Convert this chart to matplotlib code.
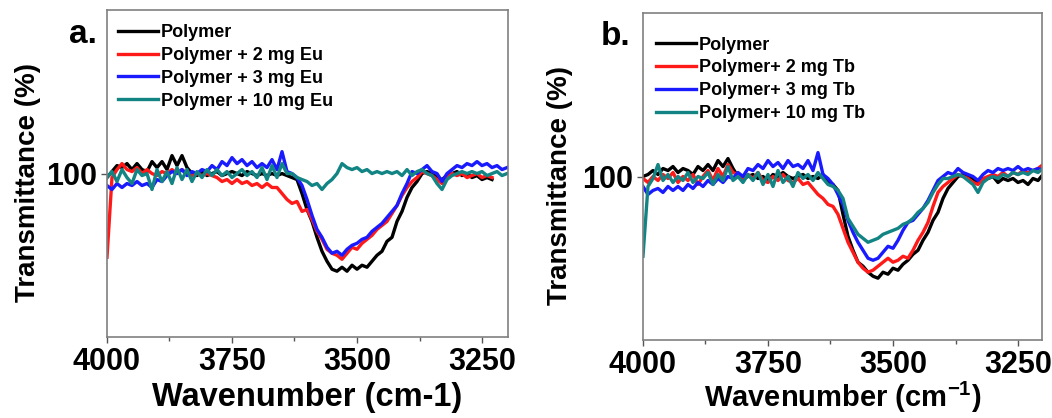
import matplotlib.pyplot as plt
from matplotlib.ticker import MultipleLocator

plt.rcParams['font.family'] = ['Liberation Sans', 'DejaVu Sans']
plt.rcParams['font.weight'] = 'bold'
plt.rcParams['mathtext.fontset'] = 'custom'
plt.rcParams['mathtext.rm'] = 'Liberation Sans:bold'
plt.rcParams['mathtext.bf'] = 'Liberation Sans:bold'

# wavenumber grid, 4000 -> 3200 cm-1 every 10
wavenumber = list(range(4000, 3190, -10))

# panel a: Eu
eu_polymer = [99, 100.5, 102, 101.5, 102.5, 101, 102.5, 101, 100.5, 103,
              101.5, 103, 101, 104.5, 102, 104.5, 101.5, 100, 99.5, 100.5,
              99.5, 100, 100.5, 99.5, 100, 100.5, 100, 99.5, 100.5, 100,
              99.5, 100, 99.5, 100, 99.5, 100, 99.5, 99, 98.5, 95,
              91, 88, 84, 80.5, 78, 76, 75.5, 76.5, 75.5, 77,
              76, 77, 76.5, 78, 79.5, 80.5, 83, 84, 88, 90.5,
              94, 96.5, 98, 100, 100.5, 100, 99, 98.5, 99.5, 100,
              100.5, 99.5, 100, 99, 99.5, 98.5, 99, 98.5]
eu_2mg = [79, 99, 101, 102.5, 101, 100.5, 101.5, 100, 101, 100,
          99.5, 100.5, 100, 101, 100, 101, 100, 99.5, 100, 99.5,
          100, 99.5, 99, 98, 98.5, 97.5, 98.5, 97.5, 98, 97,
          97.5, 96.5, 97.5, 96.5, 96.5, 95, 93.5, 92.5, 93, 90.5,
          91, 88.5, 85.5, 83.5, 81, 80, 79.5, 78.5, 80, 81.5,
          81, 82.5, 83.5, 84.5, 86, 87, 88, 90, 92, 94.5,
          96.5, 98, 99, 100.5, 100, 99.5, 98.5, 97.5, 99, 100,
          99.5, 100, 99, 99.5, 100, 99, 99.5, 99]
eu_3mg = [97, 96, 97.5, 96.5, 97.5, 97, 98, 97, 97.5, 96.5,
          98.5, 98, 99.5, 100.5, 100, 101, 99.5, 100.5, 100, 101,
          100.5, 102, 101, 103, 102, 104, 102.5, 103.5, 102, 103,
          101.5, 102.5, 101.5, 103.5, 101, 105.5, 100.5, 100, 99, 97,
          93.5, 89.5, 86, 84, 81.5, 80, 80.5, 79.5, 81, 82,
          82.5, 83.5, 84, 85.5, 86.5, 87.5, 89, 90.5, 92, 95,
          97.5, 100.5, 100, 101, 102, 100.5, 100, 98, 100, 101,
          102, 101.5, 102.5, 102, 103, 102, 102.5, 101.5, 102, 101,
          101.5]
eu_10mg = [99, 100.5, 98, 101, 99, 97.5, 101, 99.5, 100, 96,
           101, 98, 100.5, 97.5, 101.5, 98.5, 101, 98, 100.5, 99,
           101, 99.5, 101, 99.5, 100.5, 99, 100, 101, 99.5, 100.5,
           99, 101.5, 98.5, 102, 99, 102.5, 100, 100, 99, 98.5,
           98, 97, 97.5, 96, 97.5, 98.5, 100, 102.5, 101.5, 101,
           101.5, 100.5, 101, 100, 100.5, 100, 100.5, 100, 100.5, 99.5,
           101, 99.5, 100.5, 101, 100, 99.5, 97.5, 96, 98.5, 99.5,
           100, 100.5, 100, 100.5, 100, 100.5, 99.5, 100, 100.5, 99.5,
           100]

# panel b: Tb
tb_polymer = [100, 100.5, 101.5, 100.5, 102, 101.5, 102.5, 101, 102, 101.5,
              100.5, 102.5, 101.5, 103, 101.5, 104, 102.5, 104.5, 102, 100,
              99.5, 100, 100.5, 99.5, 100, 99, 100.5, 100, 101, 100,
              99.5, 100, 100.5, 99.5, 100, 99.5, 100.5, 98.5, 98, 96.5,
              90.5, 85, 81.5, 78.5, 77.5, 76, 75, 74.5, 76, 75.5,
              77, 76.5, 78, 79, 80.5, 81.5, 84, 86, 89, 91,
              94.5, 97, 98.5, 100, 100.5, 100, 99.5, 98.5, 99, 99.5,
              100, 98.5, 99.5, 99, 99.5, 98.5, 99, 98, 99.5, 99,
              100.5]
tb_2mg = [99.5, 98.5, 100, 99, 100.5, 99.5, 101, 98.5, 100, 99,
          100.5, 98, 100, 101.5, 99, 102, 100, 103, 101, 100.5,
          99, 100.5, 99.5, 101, 99, 98.5, 100, 99, 100.5, 99,
          98.5, 99.5, 98, 98.5, 97, 95.5, 94.5, 93, 92.5, 90.5,
          87, 83.5, 81, 78.5, 77, 76, 76.5, 77.5, 78.5, 79.5,
          78.5, 79, 80, 79.5, 81.5, 84, 86, 88.5, 92.5, 96,
          97.5, 98.5, 99.5, 100.5, 100, 99.5, 98.5, 98, 99.5, 100,
          100.5, 100, 101, 100, 101, 100.5, 101.5, 101, 101.5, 102,
          103]
tb_3mg = [97.5, 95.5, 96.5, 97, 96, 97.5, 96.5, 97.5, 96.5, 98,
          97, 98.5, 97.5, 99, 98, 99.5, 98.5, 100, 99.5, 101,
          100, 102, 101.5, 103, 102, 104, 102.5, 103.5, 102, 104,
          102.5, 103, 102, 104, 101.5, 106, 100.5, 99.5, 98, 95.5,
          93, 89, 86, 83.5, 81.5, 79.5, 79, 79.5, 81, 82.5,
          82, 84, 86.5, 88.5, 89, 90.5, 92, 94, 96.5, 99,
          100, 101, 100.5, 102, 101, 100.5, 100, 99, 100.5, 101.5,
          101, 102, 101.5, 102, 101.5, 102.5, 101.5, 102, 101.5, 102,
          101.5]
tb_10mg = [80, 97.5, 99.5, 103, 99, 100.5, 98.5, 100, 99, 101,
           98.5, 100, 99.5, 101, 98, 100.5, 99, 102.5, 99, 100,
           98.5, 100.5, 99, 101, 98, 100.5, 97.5, 101.5, 98.5, 100,
           97.5, 101, 99.5, 100.5, 99, 101, 99.5, 98, 97.5, 96.5,
           94.5, 89.5, 87.5, 85.5, 84.5, 83.5, 84, 84.5, 85.5, 86,
           86.5, 87, 88, 88.5, 89.5, 91, 92, 93.5, 96, 98,
           99.5, 99.5, 100, 100.5, 100, 99, 98, 96, 98.5, 99.5,
           100, 99.5, 100.5, 100, 101, 100.5, 101, 100.5, 101.5, 101,
           102]

eu_labels = ["Polymer", "Polymer + 2 mg Eu", "Polymer + 3 mg Eu", "Polymer + 10 mg Eu"]
tb_labels = ["Polymer", "Polymer+ 2 mg Tb", "Polymer+ 3 mg Tb", "Polymer+ 10 mg Tb"]
colors = ["black", "#ff1a1a", "#1a1aff", "#138484"]

fig = plt.figure(figsize=(10.52, 4.18), dpi=100)
ax_a = fig.add_axes([0.1017, 0.1938, 0.3812, 0.782])
ax_b = fig.add_axes([0.6112, 0.1866, 0.3793, 0.7823])


def draw_panel(ax, series, labels, letter, letter_xy, xlabel, xsize, xpad, xmax,
               leg_anchor, ylab_x):
    for ys, lab, c in zip(series, labels, colors):
        ax.plot(wavenumber[:len(ys)], ys, color=c, lw=2.4, label=lab)
    ax.set_xlim(4000, xmax)
    ax.set_ylim(59, 141)
    ax.set_xticks([4000, 3750, 3500, 3250])
    ax.xaxis.set_minor_locator(MultipleLocator(125))
    ax.set_yticks([100])
    ax.tick_params(which='major', direction='out', length=4, width=1, labelsize=22,
                   color='#555555', pad=3)
    ax.tick_params(which='minor', direction='out', length=3, width=1, color='#555555')
    for sp in ax.spines.values():
        sp.set_color('#808080')
        sp.set_linewidth(1.2)
    ax.set_xlabel(xlabel, fontsize=xsize, fontweight='bold', labelpad=xpad)
    ax.set_ylabel("Transmittance (%)", fontsize=20, fontweight='bold')
    ax.yaxis.set_label_coords(ylab_x, 0.474)
    ax.legend(loc='upper left', bbox_to_anchor=leg_anchor, frameon=False,
              handlelength=2.2, handletextpad=0.17, labelspacing=0.32,
              borderaxespad=0.0, borderpad=0.0,
              prop={'weight': 'bold', 'size': 13})
    ax.text(letter_xy[0], letter_xy[1], letter, transform=ax.transAxes, fontsize=24,
            fontweight='bold', ha='center', va='center')


draw_panel(ax_a, [eu_polymer, eu_2mg, eu_3mg, eu_10mg], eu_labels, "a.", (-0.06, 0.924),
           "Wavenumber (cm-1)", 23.5, 4, 3198, (0.027, 0.957), -0.165)
draw_panel(ax_b, [tb_polymer, tb_2mg, tb_3mg, tb_10mg], tb_labels, "b.", (-0.068, 0.927),
           "Wavenumber (cm$^{-1}$)", 21, 0, 3202, (0.033, 0.928), -0.175)

plt.savefig("out.png", dpi=100)
